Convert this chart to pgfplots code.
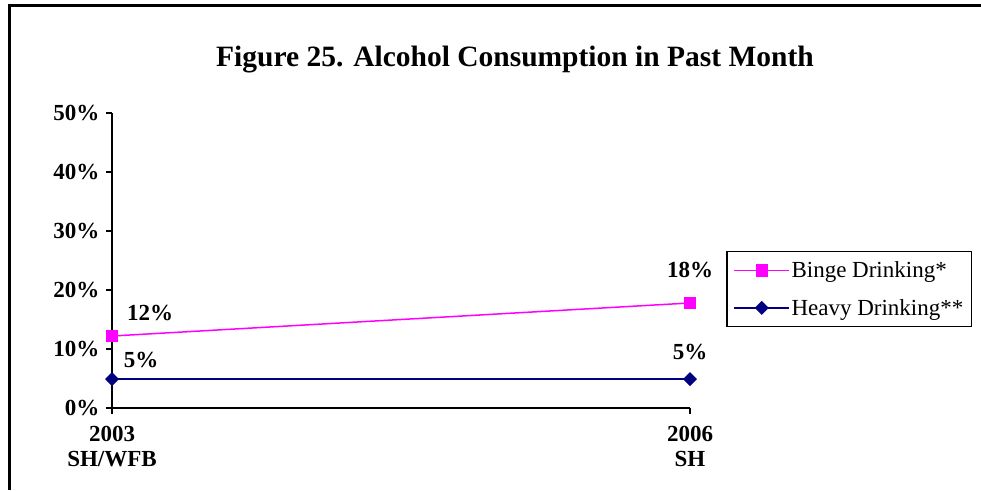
\documentclass[border=0pt]{standalone}
\usepackage{fontspec}
\setmainfont{Liberation Serif}
\usepackage{pgfplots}
\pgfplotsset{compat=1.18}
\definecolor{binge}{RGB}{255,0,255}
\definecolor{heavy}{RGB}{0,0,128}
\begin{document}
\begin{tikzpicture}[x=1pt,y=1pt]
\useasboundingbox (0,0) rectangle (981,490);
\draw[line width=2.5pt] (9.5,0) -- (9.5,484.5) -- (981,484.5);
\node[font=\fontsize{29.5}{33}\selectfont\bfseries] at (515,430) {Figure 25. Alcohol Consumption in Past Month};
\begin{axis}[at={(112pt,82pt)}, anchor=south west, scale only axis,
  width=578pt, height=295pt,
  xmin=0, xmax=1, ymin=0, ymax=50, clip=false,
  axis x line*=bottom, axis y line*=left,
  axis line style={line width=2pt, black},
  xtick={0,1}, xticklabels={2003\\SH/WFB,2006\\SH},
  xticklabel style={align=center, font=\fontsize{23}{25}\selectfont\bfseries, yshift=-9pt},
  ytick={0,10,20,30,40,50}, yticklabels={0\%,10\%,20\%,30\%,40\%,50\%},
  yticklabel style={font=\fontsize{23}{25}\selectfont\bfseries, xshift=-3pt},
  tick align=outside, major tick length=6pt,
  tick style={line width=1.5pt, black},
  /pgf/number format/assume math mode=true,
  legend style={at={(1.063,0.532)}, anchor=north west, draw=black, line width=1.2pt,
    font=\fontsize{23}{24}\selectfont, row sep=17pt, inner xsep=6.5pt, inner ysep=8.5pt,
    nodes={inner sep=1.5pt},
    legend cell align=left},
  legend image code/.code={\draw[mark repeat=2,mark phase=2,#1] plot coordinates {(0pt,0pt) (27.5pt,0pt) (55pt,0pt)};},
]
\addplot[binge, line width=1.5pt, mark=square*, mark size=5.5pt, mark options={solid}]
  coordinates {(0,12.2) (1,17.8)};
\addlegendentry{Binge Drinking*}
\addplot[heavy, line width=1.5pt, mark=diamond*, mark size=6pt, mark options={solid,xscale=1.3}]
  coordinates {(0,4.9) (1,4.9)};
\addlegendentry{Heavy Drinking**}
\node[font=\fontsize{23}{25}\selectfont\bfseries, xshift=38pt, yshift=23pt] at (axis cs:0,12.2) {12\%};
\node[font=\fontsize{23}{25}\selectfont\bfseries, xshift=29pt, yshift=19pt] at (axis cs:0,4.9) {5\%};
\node[font=\fontsize{23}{25}\selectfont\bfseries, yshift=33pt] at (axis cs:1,17.8) {18\%};
\node[font=\fontsize{23}{25}\selectfont\bfseries, yshift=27pt] at (axis cs:1,4.9) {5\%};
\end{axis}
\end{tikzpicture}
\end{document}
